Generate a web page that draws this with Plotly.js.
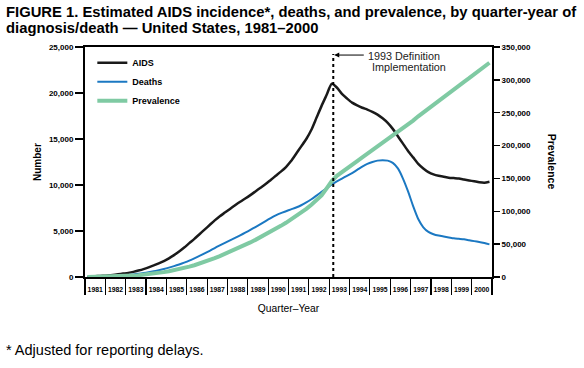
<!DOCTYPE html>
<html>
<head>
<meta charset="utf-8">
<script src="https://cdn.plot.ly/plotly-3.0.1.min.js"></script>
<style>html,body{margin:0;padding:0;background:#fff;}#chart{width:584px;height:368px;}</style>
</head>
<body>
<div id="chart"></div>
<script>
// Quarter-year axis
const years = [1981,1982,1983,1984,1985,1986,1987,1988,1989,1990,1991,1992,1993,1994,1995,1996,1997,1998,1999,2000];
const quarters = [1,2,3,4];
const yearLabels = years.map(String);

// AIDS incidence (left axis), quarterly 1981Q1..2000Q4
const aids = [
  30, 60, 100, 130,
  170, 220, 290, 370,
  450, 560, 700, 860,
  1050, 1260, 1490, 1730,
  2030, 2380, 2770, 3200,
  3680, 4150, 4650, 5150,
  5650, 6150, 6600, 7000,
  7400, 7800, 8180, 8530,
  8900, 9300, 9700, 10100,
  10550, 11000, 11450, 11950,
  12600, 13400, 14200, 15000,
  16000, 17300, 18600, 19800,
  21000, 20600, 19900, 19400,
  18950, 18650, 18400, 18200,
  17950, 17650, 17250, 16750,
  16100, 15300, 14500, 13700,
  13000, 12300, 11800, 11400,
  11150, 11000, 10900, 10800,
  10750, 10700, 10600, 10500,
  10400, 10300, 10250, 10350
];
// Deaths (left axis)
const deaths = [
  10, 20, 30, 50,
  70, 100, 130, 170,
  220, 280, 350, 430,
  520, 620, 740, 870,
  1020, 1180, 1360, 1560,
  1780, 2030, 2290, 2560,
  2850, 3150, 3430, 3700,
  3980, 4250, 4530, 4820,
  5120, 5430, 5750, 6080,
  6400, 6700, 6950, 7150,
  7350, 7550, 7800, 8100,
  8450, 8850, 9250, 9650,
  10050, 10400, 10700, 11000,
  11300, 11650, 12000, 12300,
  12500, 12650, 12700, 12650,
  12400, 11800, 10700, 9300,
  7700, 6300, 5400, 4900,
  4650, 4500, 4400, 4300,
  4200, 4150, 4100, 4000,
  3900, 3800, 3700, 3550
];
// Prevalence (right axis)
const prevalence = [
  50, 100, 200, 300,
  450, 650, 900, 1200,
  1600, 2100, 2700, 3400,
  4200, 5100, 6200, 7400,
  8700, 10200, 11900, 13700,
  15700, 17900, 20300, 22900,
  25700, 28700, 31800, 35000,
  38300, 41600, 45100, 48800,
  52600, 56500, 60500, 64600,
  68800, 73200, 77800, 82500,
  87500, 92600, 98000, 103800,
  110000, 116500, 124000, 135000,
  146000, 154000, 160000, 165500,
  171000, 176500, 182000, 187500,
  193000, 198500, 204000, 209500,
  215000, 220500, 226000, 232000,
  238000, 244500, 250500, 256500,
  262500, 268500, 274500, 280000,
  286000, 291500, 297000, 302500,
  308000, 313500, 319000, 326000
];
const leftTicks = [0, 5000, 10000, 15000, 20000, 25000];
const rightTicks = [0, 50000, 100000, 150000, 200000, 250000, 300000, 350000];
const definitionYear = 1993;

const xq = [];
years.forEach(y => quarters.forEach(q => xq.push(y + (q - 0.5) / 4)));
const yearEdges = years.concat([years[years.length - 1] + 1]);

const F = "Liberation Sans, Arial, Helvetica, sans-serif";
const tickFont = {family: F, size: 8, color: "#000", weight: "bold"};

const traces = [
  {x: xq, y: aids, name: "AIDS", type: "scatter", mode: "lines", line: {color: "#1a1a1a", width: 2.5, shape: "spline", smoothing: 0.6}, xaxis: "x", yaxis: "y"},
  {x: xq, y: deaths, name: "Deaths", type: "scatter", mode: "lines", line: {color: "#1b78c2", width: 2, shape: "spline", smoothing: 0.6}, xaxis: "x", yaxis: "y"},
  {x: xq, y: prevalence, name: "Prevalence", type: "scatter", mode: "lines", line: {color: "#7fcaa3", width: 4}, xaxis: "x2", yaxis: "y2"}
];

const layout = {
  width: 584, height: 368,
  margin: {l: 85, r: 92, t: 47, b: 91},
  paper_bgcolor: "#fff", plot_bgcolor: "#fff",
  showlegend: true,
  legend: {x: 0.018, y: 0.995, xanchor: "left", yanchor: "top", bgcolor: "rgba(0,0,0,0)",
           font: {family: F, size: 9, color: "#000", weight: "bold"},
           itemwidth: 30, tracegroupgap: 0},
  xaxis: {
    range: [1981, 2001], showgrid: false, zeroline: false,
    showline: true, linecolor: "#000", linewidth: 2, mirror: true,
    tickmode: "array", tickvals: yearEdges, showticklabels: false,
    ticks: "outside", ticklen: 16, tickwidth: 1.2, tickcolor: "#000"
  },
  xaxis2: {
    range: [1981, 2001], overlaying: "x", anchor: "y2", side: "bottom",
    showgrid: false, zeroline: false, showline: false,
    tickmode: "array", tickvals: years.map(y => y + 0.5), ticktext: yearLabels,
    ticks: "", tickfont: {family: F, size: 6.8, color: "#000", weight: "bold"},
    ticklabelstandoff: 7,
    title: {text: "Quarter\u2013Year", font: {family: F, size: 10.3, color: "#000"}, standoff: 12}
  },
  yaxis: {
    range: [0, 25000], showgrid: false, zeroline: false,
    showline: true, linecolor: "#000", linewidth: 2,
    tickmode: "array", tickvals: leftTicks, tickformat: ",d",
    ticks: "outside", ticklen: 8, tickwidth: 1.5, tickcolor: "#000",
    tickfont: tickFont
  },
  yaxis2: {
    range: [0, 350000], overlaying: "y", side: "right", anchor: "x2", showgrid: false, zeroline: false,
    showline: true, linecolor: "#000", linewidth: 2,
    tickmode: "array", tickvals: rightTicks, tickformat: ",d",
    ticks: "outside", ticklen: 6, tickwidth: 1.5, tickcolor: "#000",
    tickfont: tickFont
  },
  shapes: [
    {type: "line", xref: "x", yref: "paper", x0: definitionYear + 0.2, x1: definitionYear + 0.2, y0: 0, y1: 0.97,
     line: {color: "#000", width: 2, dash: "dot"}}
  ],
  annotations: [
    {xref: "paper", yref: "paper", x: -0.118, y: 0.5, xanchor: "center", yanchor: "middle", text: "<b>Number</b>", textangle: -90, showarrow: false,
     font: {family: F, size: 10, color: "#000"}},
    {xref: "paper", yref: "paper", x: 1.148, y: 0.5, xanchor: "center", yanchor: "middle", text: "<b>Prevalence</b>", textangle: 90, showarrow: false,
     font: {family: F, size: 10.5, color: "#000"}},
    {xref: "x", yref: "paper", x: definitionYear + 0.2, y: 0.965, ax: 32, ay: 0, axref: "pixel", ayref: "pixel",
     showarrow: true, arrowhead: 2, arrowsize: 1, arrowwidth: 1, arrowcolor: "#000", standoff: 1, text: ""},
    {xref: "x", yref: "paper", x: definitionYear + 1.8, y: 0.995, xanchor: "left", yanchor: "top", align: "left",
     text: "1993 Definition", showarrow: false, font: {family: F, size: 10.8, color: "#222"}},
    {xref: "x", yref: "paper", x: definitionYear + 2.0, y: 0.947, xanchor: "left", yanchor: "top", align: "left",
     text: "Implementation", showarrow: false, font: {family: F, size: 10.8, color: "#222"}},
    {xref: "paper", yref: "paper", x: -0.199, y: 1.196, xanchor: "left", yanchor: "top", align: "left", showarrow: false,
     text: "<b>FIGURE 1. Estimated AIDS incidence*, deaths, and prevalence, by quarter-year of</b>",
     font: {family: F, size: 14.8, color: "#000"}},
    {xref: "paper", yref: "paper", x: -0.199, y: 1.126, xanchor: "left", yanchor: "top", align: "left", showarrow: false,
     text: "<b>diagnosis/death \u2014 United States, 1981\u20132000</b>",
     font: {family: F, size: 14.8, color: "#000"}},
    {xref: "paper", yref: "paper", x: -0.199, y: -0.36, xanchor: "left", yanchor: "bottom", align: "left", showarrow: false,
     text: "* Adjusted for reporting delays.", font: {family: F, size: 14.5, color: "#000"}}
  ]
};

Plotly.newPlot("chart", traces, layout, {displayModeBar: false, staticPlot: true});
</script>
</body>
</html>
